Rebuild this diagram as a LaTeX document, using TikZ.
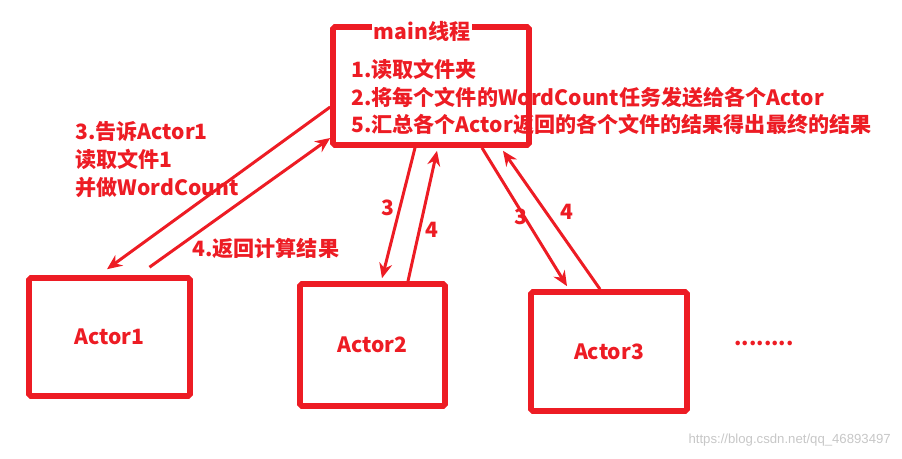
\documentclass[tikz,border=0pt]{standalone}
\usepackage{fontspec}
\setmainfont{Noto Sans CJK SC}
\setsansfont{Liberation Sans}
\usepackage{xcolor}
\usetikzlibrary{arrows.meta, positioning, calc}
\definecolor{kirmizi}{RGB}{237,28,36}
\tikzset{
  kutu/.style={rectangle, draw=kirmizi, line width=3.2pt, rounded corners=1pt, text=kirmizi, font=\bfseries\fontsize{12}{14}\selectfont},
  yazi/.style={text=kirmizi, align=left, inner sep=0pt, font=\bfseries\fontsize{12}{15.9}\selectfont},
  ok/.style={-{Stealth[length=0.3cm, width=0.26cm]}, draw=kirmizi, line width=1.7pt},
}
\begin{document}
\begin{tikzpicture}[x=0.02cm, y=-0.02cm]
  \useasboundingbox (0,0) rectangle (902,459);
  % main thread box
  \node[kutu, minimum width=3.92cm, minimum height=2.36cm] (main) at (431,86) {};
  \node[yazi, fill=white, inner sep=1pt] (baslik) at (422,31) {main线程};
  \node[yazi, anchor=west] (gorev) at (351,97) {1.读取文件夹\\2.将每个文件的WordCount任务发送给各个Actor\\5.汇总各个Actor返回的各个文件的结果得出最终的结果};
  % Actors
  \node[kutu, minimum width=3.22cm, minimum height=2.36cm] (a1) at (109.5,337) {Actor1};
  \node[kutu, minimum width=2.9cm, minimum height=2.44cm] (a2) at (372.5,345) {Actor2};
  \node[kutu, minimum width=3.12cm, minimum height=2.38cm] (a3) at (609,351.5) {Actor3};
  \node[yazi] (nokta) at (764,343) {........};
  % arrows
  \draw[ok] ([yshift=-0.42cm]main.west) -- ([xshift=-0.05cm,yshift=0.12cm]a1.north);
  \draw[ok] ([xshift=0.8cm,yshift=0.16cm]a1.north) -- ([yshift=-1.04cm]main.west);
  \draw[ok] ([xshift=-0.32cm]main.south) -- ([xshift=0.19cm,yshift=0.06cm]a2.north);
  \draw[ok] ([xshift=0.71cm]a2.north) -- ([xshift=0.12cm,yshift=-0.06cm]main.south);
  \draw[ok] ([xshift=1.02cm]main.south) -- ([xshift=-0.84cm,yshift=0.06cm]a3.north);
  \draw[ok] ([xshift=-0.18cm]a3.north) -- ([xshift=1.44cm,yshift=-0.06cm]main.south);
  % labels
  \node[yazi, anchor=west] (t3) at (75,160) {3.告诉Actor1\\读取文件1\\并做WordCount};
  \node[yazi, anchor=west] (t4) at (192,248) {4.返回计算结果};
  \node[yazi] (n3a) at (388,208) {3};
  \node[yazi] (n4a) at (432,230) {4};
  \node[yazi] (n3b) at (521,217) {3};
  \node[yazi] (n4b) at (567,212) {4};
  \node[anchor=east, text=black!22, font=\sffamily\fontsize{7.5}{9}\selectfont] (wm) at (897,440) {https://blog.csdn.net/qq\_46893497};
\end{tikzpicture}
\end{document}
